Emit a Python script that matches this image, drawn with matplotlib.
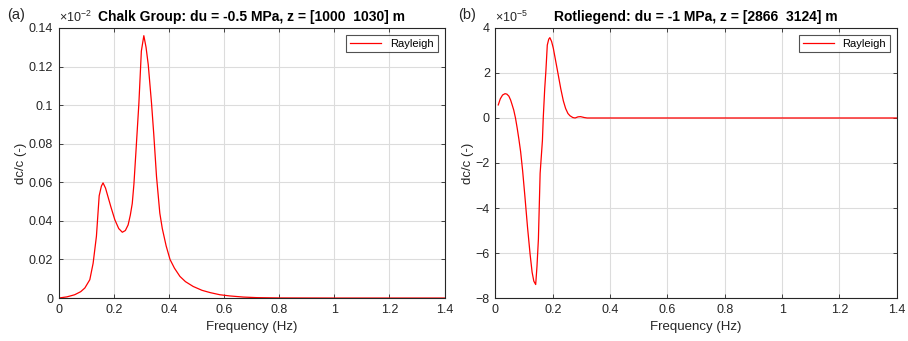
import matplotlib
matplotlib.use('Agg')
import matplotlib.pyplot as plt
import numpy as np

plt.rcParams['font.family'] = ['Liberation Sans', 'DejaVu Sans']
plt.rcParams['mathtext.fontset'] = 'custom'
plt.rcParams['mathtext.rm'] = 'Liberation Sans'
plt.rcParams['mathtext.it'] = 'Liberation Sans:italic'

# Chalk Group, dc/c in units of 1e-2
freq_a = [0, 0.03, 0.058, 0.08, 0.095, 0.113, 0.125, 0.137, 0.147, 0.155, 0.161,
          0.17, 0.179, 0.19, 0.204, 0.218, 0.231, 0.242, 0.252, 0.26, 0.267,
          0.273, 0.28, 0.291, 0.30, 0.309, 0.317, 0.325, 0.337, 0.345, 0.355,
          0.367, 0.376, 0.39, 0.404, 0.42, 0.44, 0.46, 0.488, 0.52, 0.55,
          0.585, 0.62, 0.67, 0.72, 0.8, 1.0, 1.4]
dcc_a = [0, 0.0006, 0.0017, 0.0033, 0.0052, 0.0095, 0.018, 0.032, 0.053, 0.058,
         0.0597, 0.057, 0.0525, 0.047, 0.0405, 0.036, 0.0341, 0.035, 0.0379,
         0.043, 0.049, 0.059, 0.075, 0.1008, 0.128, 0.136, 0.130, 0.121,
         0.1008, 0.085, 0.063, 0.044, 0.036, 0.027, 0.02, 0.0155, 0.0112,
         0.0085, 0.006, 0.004, 0.0028, 0.0017, 0.0011, 0.0005, 0.0002,
         0.00005, 0, 0]

# Rotliegend, dc/c in units of 1e-5
freq_b = [0.01, 0.017, 0.025, 0.0335, 0.04, 0.047, 0.053, 0.058, 0.064, 0.07,
          0.076, 0.082, 0.088, 0.095, 0.103, 0.112, 0.121, 0.128, 0.134,
          0.1405, 0.145, 0.15, 0.156, 0.164, 0.167, 0.172, 0.176, 0.181,
          0.186, 0.19, 0.196, 0.202, 0.21, 0.219, 0.228, 0.237, 0.245, 0.253,
          0.26, 0.27, 0.278, 0.288, 0.297, 0.31, 0.32, 0.35, 1.4]
dcc_b = [0.58, 0.85, 1.02, 1.08, 1.06, 0.97, 0.8, 0.6, 0.35, 0.0,
         -0.45, -0.95, -1.5, -2.35, -3.5, -4.85, -6.05, -6.85, -7.25,
         -7.4, -6.6, -5.38, -2.46, -1.0, 0.03, 1.3, 2.07, 3.24,
         3.5, 3.57, 3.4, 3.1, 2.55, 1.93, 1.3, 0.76, 0.42, 0.2,
         0.1, 0.02, 0.0, 0.05, 0.06, 0.02, 0.0, 0.0, 0.0]

xticks = [0, 0.2, 0.4, 0.6, 0.8, 1, 1.2, 1.4]
xticklabels = ['0', '0.2', '0.4', '0.6', '0.8', '1', '1.2', '1.4']
yticks_a = [0, 0.02, 0.04, 0.06, 0.08, 0.1, 0.12, 0.14]
yticklabels_a = ['0', '0.02', '0.04', '0.06', '0.08', '0.1', '0.12', '0.14']
yticks_b = [-8, -6, -4, -2, 0, 2, 4]

axcol = '#262626'

fig = plt.figure(figsize=(9.08, 3.41), dpi=100)
ax1 = fig.add_axes([0.0646, 0.126, 0.425, 0.792])
ax2 = fig.add_axes([0.5456, 0.126, 0.442, 0.792])

def style(ax):
    ax.grid(True, color='#dcdcdc', linewidth=0.8)
    ax.set_axisbelow(True)
    for s in ax.spines.values():
        s.set_color(axcol)
        s.set_linewidth(0.8)
    ax.tick_params(direction='in', length=3, width=0.6, colors=axcol,
                   labelsize=9, top=True, right=True, pad=4)
    ax.set_xlim(0, 1.4)
    ax.set_xticks(xticks)
    ax.set_xticklabels(xticklabels)
    ax.set_xlabel('Frequency (Hz)', fontsize=9.5, color=axcol, labelpad=4)
    ax.set_ylabel('dc/c (-)', fontsize=9.5, color=axcol, labelpad=1)
    leg = ax.legend(loc='upper right', fontsize=8, frameon=True, fancybox=False,
                    handlelength=2.8, borderpad=0.35, borderaxespad=0.6)
    leg.get_frame().set_edgecolor(axcol)
    leg.get_frame().set_linewidth(0.8)

ax1.plot(freq_a, dcc_a, color='red', linewidth=0.9, label='Rayleigh')
ax1.set_ylim(0, 0.14)
ax1.set_yticks(yticks_a)
ax1.set_yticklabels(yticklabels_a)
style(ax1)
ax1.set_title('Chalk Group: du = -0.5 MPa, z = [1000  1030] m',
              fontsize=10, fontweight='bold', pad=5)
ax1.text(0.0, 1.012, r'$\times$10$^{-2}$', transform=ax1.transAxes,
         fontsize=9, color=axcol, ha='left', va='bottom')
fig.text(0.008, 0.955, '(a)', fontsize=10.5, color=axcol, va='center')

ax2.plot(freq_b, dcc_b, color='red', linewidth=0.9, label='Rayleigh')
ax2.set_ylim(-8, 4)
ax2.set_yticks(yticks_b)
style(ax2)
ax2.set_title('Rotliegend: du = -1 MPa, z = [2866  3124] m',
              fontsize=10, fontweight='bold', pad=5)
ax2.text(0.0, 1.012, r'$\times$10$^{-5}$', transform=ax2.transAxes,
         fontsize=9, color=axcol, ha='left', va='bottom')
fig.text(0.505, 0.955, '(b)', fontsize=10.5, color=axcol, va='center')

fig.savefig('out.png', dpi=100)
